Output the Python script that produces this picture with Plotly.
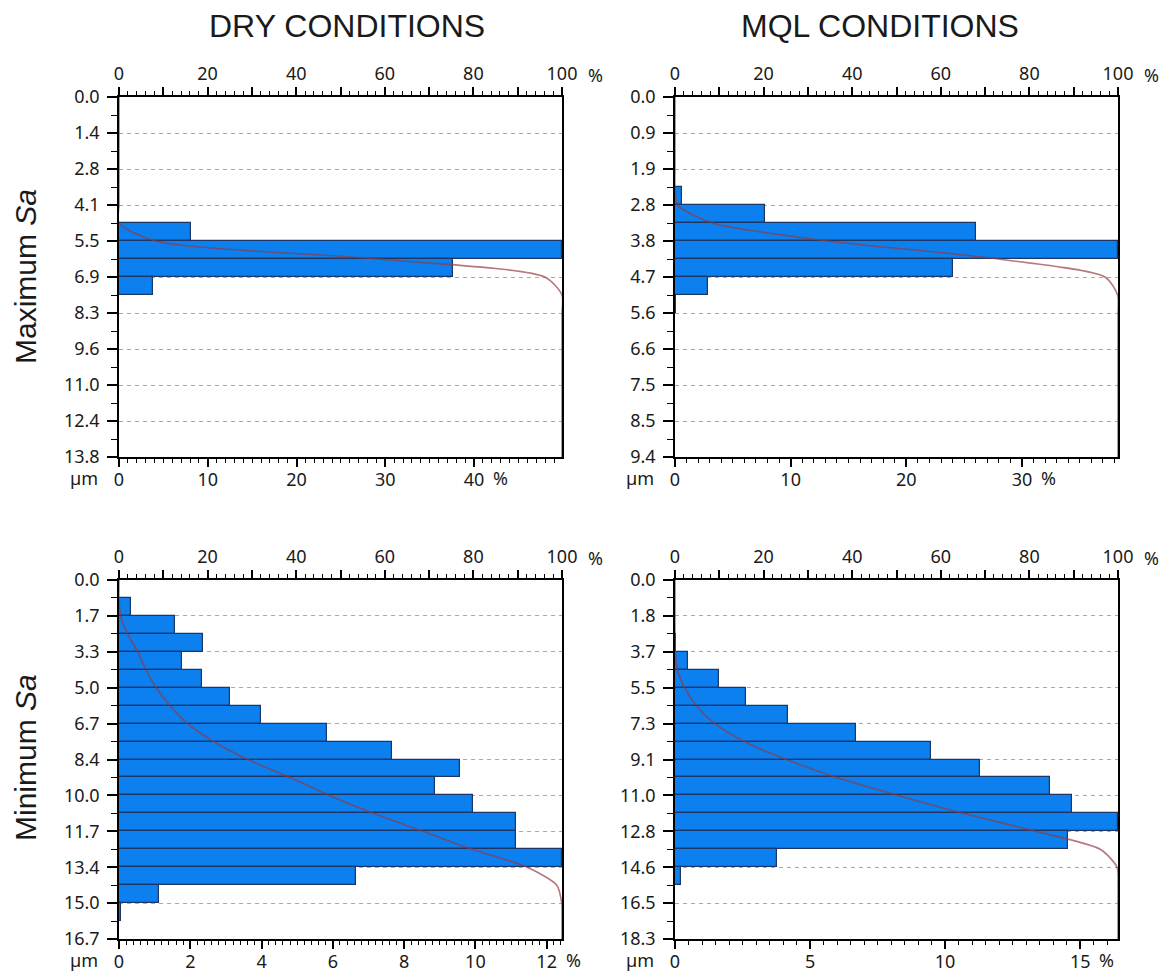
import numpy as np
import plotly.graph_objects as go

# ---------------- data ----------------
column_titles = ["DRY CONDITIONS", "MQL CONDITIONS"]
row_titles = ["Maximum <i>Sa</i>", "Minimum <i>Sa</i>"]
depth_unit = "µm"
pct_unit = "%"

# depth range of each histogram (µm), 20 classes each
dry_max_depth = 13.78
mql_max_depth = 9.40
dry_min_depth = 16.72
mql_min_depth = 18.28

# histogram class percentages (top of surface -> bottom)
dry_max_pct = [0, 0, 0, 0, 0, 0, 0, 8.13, 49.9, 37.66, 3.87, 0, 0, 0, 0, 0, 0, 0, 0, 0]
mql_max_pct = [0, 0, 0, 0, 0, 0.64, 7.8, 26.0, 38.3, 24.0, 2.83, 0.1, 0, 0, 0, 0, 0, 0, 0, 0]
dry_min_pct = [0, 0.34, 1.57, 2.36, 1.78, 2.32, 3.12, 3.99, 5.85, 7.66, 9.56, 8.88, 9.93,
               11.14, 11.14, 12.43, 6.65, 1.12, 0.06, 0]
mql_min_pct = [0, 0, 0, 0.05, 0.48, 1.64, 2.64, 4.17, 6.69, 9.46, 11.29, 13.89, 14.7,
               16.4, 14.54, 3.79, 0.22, 0, 0, 0]

# tick labels
dry_max_ylabels = ["0.0", "1.4", "2.8", "4.1", "5.5", "6.9", "8.3", "9.6", "11.0", "12.4", "13.8"]
mql_max_ylabels = ["0.0", "0.9", "1.9", "2.8", "3.8", "4.7", "5.6", "6.6", "7.5", "8.5", "9.4"]
dry_min_ylabels = ["0.0", "1.7", "3.3", "5.0", "6.7", "8.4", "10.0", "11.7", "13.4", "15.0", "16.7"]
mql_min_ylabels = ["0.0", "1.8", "3.7", "5.5", "7.3", "9.1", "11.0", "12.8", "14.6", "16.5", "18.3"]

dry_max_xticks = [0, 10, 20, 30, 40]
mql_max_xticks = [0, 10, 20, 30]
dry_min_xticks = [0, 2, 4, 6, 8, 10, 12]
mql_min_xticks = [0, 5, 10, 15]
cum_ticks = [0, 20, 40, 60, 80, 100]

# ---------------- style / layout ----------------
W, H = 1170, 973
col_px = [(119, 562), (675, 1118)]
row_px = [(97, 457), (580, 939)]
BAR_FILL = "#0b80ee"
BAR_LINE = "#1d3668"
CURVE = "rgba(150,55,60,0.68)"
TICKFONT = dict(family="Noto Sans, DejaVu Sans, sans-serif", size=18, color="#1a1a1a")

panels = [
    # row, col, depth, pct, ylabels, xticks, minor dtick
    (0, 0, dry_max_depth, dry_max_pct, dry_max_ylabels, dry_max_xticks, 1),
    (0, 1, mql_max_depth, mql_max_pct, mql_max_ylabels, mql_max_xticks, 1),
    (1, 0, dry_min_depth, dry_min_pct, dry_min_ylabels, dry_min_xticks, 0.2),
    (1, 1, mql_min_depth, mql_min_pct, mql_min_ylabels, mql_min_xticks, 0.5),
]

fig = go.Figure()
layout = {}
annotations = []

for k, (r, c, depth, pct, ylabels, xticks, xminor) in enumerate(panels):
    n = len(pct)
    bw = depth / n
    edges = np.arange(n + 1) * bw
    centers = (np.arange(n) + 0.5) * bw
    pct = np.asarray(pct, dtype=float)
    cum = np.concatenate([[0.0], np.cumsum(pct)]) / pct.sum() * 100.0

    xb = 2 * k + 1
    xt = 2 * k + 2
    yk = k + 1
    xb_ref = "x" if xb == 1 else f"x{xb}"
    xt_ref = f"x{xt}"
    y_ref = "y" if yk == 1 else f"y{yk}"
    xb_name = "xaxis" if xb == 1 else f"xaxis{xb}"
    xt_name = f"xaxis{xt}"
    y_name = "yaxis" if yk == 1 else f"yaxis{yk}"

    fig.add_trace(go.Bar(
        x=pct, y=centers, orientation="h", width=bw, base=0,
        marker=dict(color=BAR_FILL, line=dict(color=BAR_LINE, width=1.2)),
        xaxis=xb_ref, yaxis=y_ref, showlegend=False, hoverinfo="skip"))
    fig.add_trace(go.Scatter(
        x=cum, y=edges, mode="lines",
        line=dict(color=CURVE, width=1.6, shape="spline", smoothing=0.7),
        xaxis=xt_ref, yaxis=y_ref, showlegend=False, hoverinfo="skip"))

    xd = [col_px[c][0] / W, col_px[c][1] / W]
    yd = [1 - row_px[r][1] / H, 1 - row_px[r][0] / H]

    layout[xb_name] = dict(
        domain=xd, anchor=y_ref, range=[0, pct.max()], automargin=False,
        tickmode="array", tickvals=xticks, ticktext=[str(t) for t in xticks],
        ticks="outside", ticklen=8, tickwidth=1.6, tickcolor="black",
        ticklabelstandoff=-2,
        showline=True, linecolor="black", linewidth=1.6,
        showgrid=False, zeroline=False, tickfont=TICKFONT,
        minor=dict(tick0=0, dtick=xminor, ticks="outside", ticklen=4,
                   tickwidth=1.3, tickcolor="black", showgrid=False),
    )
    top_vals = list(range(0, 101, 10))
    top_text = [str(v) if v in cum_ticks else "" for v in top_vals]
    layout[xt_name] = dict(
        overlaying=xb_ref, side="top", anchor=y_ref, domain=xd, range=[0, 100],
        automargin=False,
        tickmode="array", tickvals=top_vals, ticktext=top_text,
        ticks="outside", ticklen=8, tickwidth=1.6, tickcolor="black",
        showline=True, linecolor="black", linewidth=1.6,
        showgrid=False, zeroline=False, tickfont=TICKFONT,
        minor=dict(tick0=0, dtick=2, ticks="outside", ticklen=4,
                   tickwidth=1.3, tickcolor="black", showgrid=False),
    )
    layout[y_name] = dict(
        domain=yd, anchor=xb_ref, range=[depth, 0], automargin=False,
        tickmode="array", tickvals=list(np.linspace(0, depth, len(ylabels))), ticktext=ylabels,
        ticks="outside", ticklen=10, tickwidth=1.6, tickcolor="black",
        ticklabelstandoff=4,
        showline=True, mirror=True, linecolor="black", linewidth=1.6,
        showgrid=True, gridcolor="#a9a9a9", gridwidth=1.2, griddash="4px,4px",
        zeroline=False, tickfont=TICKFONT,
        minor=dict(tick0=0, dtick=bw, ticks="outside", ticklen=6,
                   tickwidth=1.3, tickcolor="black", showgrid=False),
    )

    # unit labels
    annotations.append(dict(text=pct_unit, xref=xt_ref, x=100, yref=f"{y_ref} domain", y=1,
                            xanchor="left", yanchor="middle", xshift=24, yshift=22,
                            showarrow=False, font=TICKFONT))
    annotations.append(dict(text=pct_unit, xref=xb_ref, x=xticks[-1], yref=f"{y_ref} domain", y=0,
                            xanchor="left", yanchor="middle", xshift=17, yshift=-21,
                            showarrow=False, font=TICKFONT))
    annotations.append(dict(text=depth_unit, xref=f"{xb_ref} domain", x=0, yref=f"{y_ref} domain", y=0,
                            xanchor="right", yanchor="middle", xshift=-19, yshift=-21,
                            showarrow=False, font=TICKFONT))

TITLEFONT = dict(family="Liberation Sans, Arial, sans-serif", size=32, color="#1a1a1a")
for i, t in enumerate(column_titles):
    annotations.append(dict(text=t, xref="paper", yref="paper",
                            x=[347, 880][i] / W, y=1 - 26 / H,
                            xanchor="center", yanchor="middle", showarrow=False, font=TITLEFONT))
ROWFONT = dict(family="Liberation Sans, Arial, sans-serif", size=30, color="#1a1a1a")
for i, t in enumerate(row_titles):
    annotations.append(dict(text=t, xref="paper", yref="paper",
                            x=25 / W, y=1 - [277, 758][i] / H, textangle=-90,
                            xanchor="center", yanchor="middle", showarrow=False, font=ROWFONT))

fig.update_layout(
    width=W, height=H, margin=dict(l=0, r=0, t=0, b=0, autoexpand=False),
    paper_bgcolor="white", plot_bgcolor="white",
    bargap=0, barmode="overlay", showlegend=False,
    annotations=annotations, **layout)

fig.write_html("out.html", config={"displayModeBar": False},
               post_script="document.body.style.margin='0';")
